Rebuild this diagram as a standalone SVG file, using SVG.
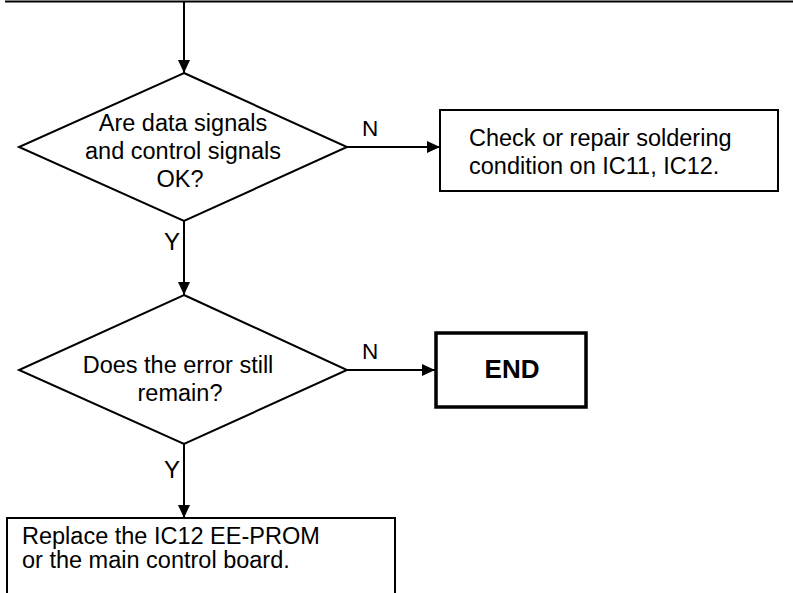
<svg xmlns="http://www.w3.org/2000/svg" width="793" height="593" viewBox="0 0 793 593">
<defs>
<style>
.bg{fill:#ffffff}
.shape{fill:#ffffff;stroke:#000000;stroke-width:2}
.end{fill:#ffffff;stroke:#000000;stroke-width:3.5}
.conn{fill:none;stroke:#000000;stroke-width:2}
text{font-family:"Liberation Sans",Arial,sans-serif;fill:#000000}
.t{font-size:23.5px}
.c{text-anchor:middle}
.lbl{font-size:22.5px}
.y{font-size:24px}
.b{font-size:26px;font-weight:bold}
</style>
<marker id="arr" markerWidth="13" markerHeight="12" refX="13" refY="6" orient="auto" markerUnits="userSpaceOnUse">
<path d="M0,0 L13,6 L0,12 Z" fill="#000000"/>
</marker>
</defs>
<rect class="bg" x="0" y="0" width="793" height="593"/>
<g id="connectors">
<line class="conn" x1="5" y1="1.5" x2="793" y2="1.5" stroke-width="2.5"/>
<line class="conn" x1="184" y1="1" x2="184" y2="73" marker-end="url(#arr)"/>
<line class="conn" x1="347" y1="147" x2="440" y2="147" marker-end="url(#arr)"/>
<text class="lbl c" x="370" y="136">N</text>
<line class="conn" x1="184" y1="221" x2="184" y2="295" marker-end="url(#arr)"/>
<text class="y c" x="172" y="250">Y</text>
<line class="conn" x1="347" y1="370" x2="435" y2="370" marker-end="url(#arr)"/>
<text class="lbl c" x="370" y="359">N</text>
<line class="conn" x1="184" y1="444" x2="184" y2="518" marker-end="url(#arr)"/>
<text class="y c" x="172" y="478">Y</text>
</g>
<g id="decision1">
<polygon class="shape" points="184,73 347,147 184,221 19,147"/>
<text class="t c" x="183" y="131">Are data signals</text>
<text class="t c" x="183" y="159">and control signals</text>
<text class="t c" x="180" y="187">OK?</text>
</g>
<g id="repair">
<rect class="shape" x="440" y="110" width="338" height="81"/>
<text class="t" x="469" y="146" font-size="23">Check or repair soldering</text>
<text class="t" x="469" y="174" font-size="23">condition on IC11, IC12.</text>
</g>
<g id="decision2">
<polygon class="shape" points="184,295 347,370 184,444 19,370"/>
<text class="t c" x="178" y="373" font-size="24.8">Does the error still</text>
<text class="t c" x="180" y="401" font-size="24.8">remain?</text>
</g>
<g id="end">
<rect class="end" x="436" y="333" width="150" height="74"/>
<text class="b c" x="512" y="378">END</text>
</g>
<g id="replace">
<rect class="shape" x="7" y="518" width="388" height="90"/>
<text class="t" x="22" y="544" font-size="24.5">Replace the IC12 EE-PROM</text>
<text class="t" x="22" y="568" font-size="24.5">or the main control board.</text>
</g>
</svg>
